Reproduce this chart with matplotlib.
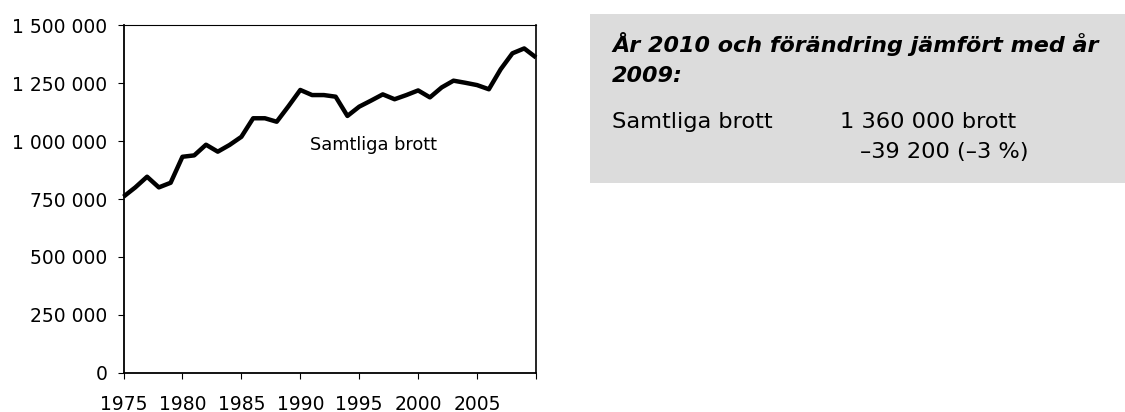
import matplotlib
matplotlib.use("Agg")
import matplotlib.pyplot as plt
from matplotlib.ticker import FuncFormatter
from matplotlib.patches import Rectangle

years = list(range(1975, 2011))
samtliga_brott = [760000, 800000, 846000, 800000, 820000, 932000, 938000, 984000,
                  954000, 983000, 1018000, 1098000, 1098000, 1083000, 1150000,
                  1220000, 1198000, 1198000, 1191000, 1108000, 1148000, 1174000,
                  1201000, 1180000, 1198000, 1218000, 1188000, 1231000, 1260000,
                  1251000, 1241000, 1223000, 1309000, 1378000, 1399000, 1360000]
x_ticks = [1975, 1980, 1985, 1990, 1995, 2000, 2005, 2010]
x_tick_labels = ["1975", "1980", "1985", "1990", "1995", "2000", "2005", ""]
y_ticks = [0, 250000, 500000, 750000, 1000000, 1250000, 1500000]
series_label = "Samtliga brott"
box_title_1 = "År 2010 och förändring jämfört med år"
box_title_2 = "2009:"
box_row_label = "Samtliga brott"
box_value_1 = "1 360 000 brott"
box_value_2 = "\u201339 200 (\u20133 %)"

plt.rcParams['font.family'] = ['DejaVu Sans']

W, H = 1125, 412
fig = plt.figure(figsize=(W / 100, H / 100), dpi=100)
ax = fig.add_axes([123.5 / W, 1 - 373 / H, (536 - 123.5) / W, (373 - 25) / H])

ax.plot(years, samtliga_brott, color='black', lw=3.2, solid_joinstyle='round',
        solid_capstyle='butt', clip_on=False, zorder=3)
ax.set_xlim(1975, 2010)
ax.set_ylim(0, 1500000)
ax.set_xticks(x_ticks)
ax.set_xticklabels(x_tick_labels)
ax.set_yticks(y_ticks)
ax.yaxis.set_major_formatter(FuncFormatter(lambda v, p: f"{int(v):,}".replace(",", " ")))
ax.tick_params(axis='both', direction='out', length=4.5, width=0.8, labelsize=13.5,
               colors='black')
ax.tick_params(axis='y', pad=7)
ax.tick_params(axis='x', pad=11)
for s in ['left', 'bottom']:
    ax.spines[s].set_linewidth(1.3)
ax.spines['right'].set_linewidth(1.2)
ax.spines['top'].set_linewidth(0.8)

ax.text(1996.2, 963000, series_label, ha='center', va='baseline', fontsize=12.8)

# grey info box
fig.patches.append(Rectangle((590 / W, 1 - 183 / H), (W - 590) / W, (183 - 14) / H,
                             transform=fig.transFigure, facecolor='#DCDCDC',
                             edgecolor='none', zorder=0))

def fx(px):
    return px / W

def fy(py):
    return 1 - py / H

fig.text(fx(612), fy(51.7), box_title_1, fontsize=16, fontweight='bold',
         fontstyle='italic', va='baseline', ha='left')
fig.text(fx(612), fy(81.7), box_title_2, fontsize=16, fontweight='bold',
         fontstyle='italic', va='baseline', ha='left')
fig.text(fx(612), fy(128), box_row_label, fontsize=16.2, va='baseline', ha='left')
fig.text(fx(840), fy(128), box_value_1, fontsize=16.2, va='baseline', ha='left')
fig.text(fx(860), fy(158), box_value_2, fontsize=16.2, va='baseline', ha='left')

fig.savefig("out.png", dpi=100)
